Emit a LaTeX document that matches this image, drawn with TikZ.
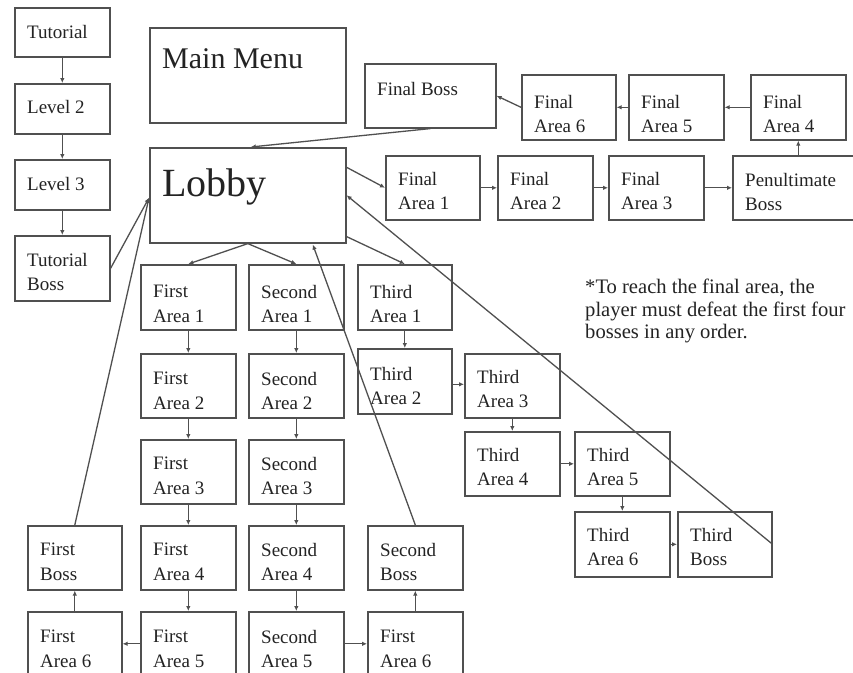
\documentclass[tikz,border=0pt]{standalone}
\usepackage{fontspec}
\setmainfont{Liberation Serif}
\usetikzlibrary{arrows.meta,calc}
\definecolor{ln}{RGB}{80,80,80}
\definecolor{tx}{RGB}{35,35,35}
\tikzset{
  box/.style={draw=ln, line width=1.6pt, inner sep=0pt},
  lbl/.style={text=tx, inner sep=0pt, align=left, font=\fontsize{19}{24.5}\selectfont},
  conn/.style={draw=ln, line width=1.3pt, -{Latex[length=5pt,width=4.5pt]}},
}
% name, x, y, w, h, text, cap-top offset
\newcommand{\gbox}[7]{%
  \node[box, minimum width=#4pt, minimum height=#5pt, anchor=north west] (#1) at (#2,#3) {};
  \node[lbl, anchor=north west] (#1-t) at ([xshift=13pt,yshift=-#7pt]#1.north west) {#6};
}
\begin{document}
\begin{tikzpicture}[x=1pt,y=-1pt]
\useasboundingbox (0,0) rectangle (853,672);
\fill[white] (0,0) rectangle (853,672);
\clip (0,0) rectangle (853,672);

% left column
\gbox{tut}{14}{7}{95}{49}{Tutorial}{18}
\gbox{lv2}{14}{83}{95}{50}{Level 2}{17}
\gbox{lv3}{14}{159}{95}{50}{Level 3}{18}
\gbox{tboss}{14}{235}{95}{65}{Tutorial\\Boss}{18}

% main menu and lobby
\node[box, minimum width=196pt, minimum height=95pt, anchor=north west] (menu) at (149,27) {};
\node[lbl, anchor=north west, font=\fontsize{30}{35}\selectfont] (menu-t) at ([xshift=13pt,yshift=-21pt]menu.north west) {Main Menu};
\node[box, minimum width=196pt, minimum height=95pt, anchor=north west] (lobby) at (149,147) {};
\node[lbl, anchor=north west, font=\fontsize{40}{46}\selectfont] (lobby-t) at ([xshift=13pt,yshift=-22pt]lobby.north west) {Lobby};

% final chain
\gbox{fboss}{364}{63}{131}{64}{Final Boss}{19}
\gbox{fa6}{521}{74}{94}{65}{Final\\Area 6}{21}
\gbox{fa5}{628}{74}{95}{65}{Final\\Area 5}{21}
\gbox{fa4}{750}{74}{95}{65}{Final\\Area 4}{21}
\gbox{fa1}{385}{155}{94}{64}{Final\\Area 1}{17}
\gbox{fa2}{497}{155}{95}{64}{Final\\Area 2}{17}
\gbox{fa3}{608}{155}{95}{64}{Final\\Area 3}{17}
\gbox{pen}{732}{155}{125}{64}{Penultimate\\Boss}{18}

% first column
\gbox{f1}{140}{264}{95}{65}{First\\Area 1}{21}
\gbox{f2}{140}{353}{95}{64}{First\\Area 2}{19}
\gbox{f3}{140}{439}{95}{64}{First\\Area 3}{18}
\gbox{f4}{140}{525}{95}{64}{First\\Area 4}{18}
\gbox{f5}{140}{611}{95}{64}{First\\Area 5}{19}
\gbox{fb}{27}{525}{94}{64}{First\\Boss}{18}
\gbox{f6}{27}{611}{94}{64}{First\\Area 6}{19}

% second column
\gbox{s1}{248}{264}{95}{65}{Second\\Area 1}{21}
\gbox{s2}{248}{353}{95}{64}{Second\\Area 2}{19}
\gbox{s3}{248}{439}{95}{64}{Second\\Area 3}{18}
\gbox{s4}{248}{525}{95}{64}{Second\\Area 4}{18}
\gbox{s5}{248}{611}{95}{64}{Second\\Area 5}{19}
\gbox{sb}{367}{525}{95}{64}{Second\\Boss}{18}
\gbox{s6}{367}{611}{95}{64}{First\\Area 6}{19}

% third branch
\gbox{t1}{357}{264}{94}{65}{Third\\Area 1}{21}
\gbox{t2}{357}{348}{94}{65}{Third\\Area 2}{19}
\gbox{t3}{464}{353}{95}{64}{Third\\Area 3}{17}
\gbox{t4}{464}{431}{95}{64}{Third\\Area 4}{17}
\gbox{t5}{574}{431}{95}{64}{Third\\Area 5}{17}
\gbox{t6}{574}{511}{95}{65}{Third\\Area 6}{17}
\gbox{tb}{677}{511}{94}{65}{Third\\Boss}{17}

% note
\node[lbl, anchor=north west, font=\fontsize{20.6}{22.5}\selectfont] (note) at (585,279)
  {*To reach the final area, the\\player must defeat the first four\\bosses in any order.};

% connectors: left column
\draw[conn] (tut.south) -- (lv2.north);
\draw[conn] (lv2.south) -- (lv3.north);
\draw[conn] (lv3.south) -- (tboss.north);
\coordinate (lobbyL) at ([yshift=-2.5pt]lobby.west);
\draw[conn] (tboss.east) -- (lobbyL);
\draw[conn] (fb.north) -- (lobbyL);

% final chain
\draw[conn] (fboss.south) -- ([xshift=3pt]lobby.north);
\draw[conn] ([yshift=28pt]lobby.east) -- (fa1.west);
\draw[conn] (fa1.east) -- (fa2.west);
\draw[conn] (fa2.east) -- (fa3.west);
\draw[conn] (fa3.east) -- (pen.west);
\draw[conn] (fa4.south |- pen.north) -- (fa4.south);
\draw[conn] (fa4.west) -- (fa5.east);
\draw[conn] (fa5.west) -- (fa6.east);
\draw[conn] (fa6.west) -- (fboss.east);

% lobby to branches
\draw[conn] (lobby.south) -- (f1.north);
\draw[conn] (lobby.south) -- (s1.north);
\draw[conn] ([yshift=7pt]lobby.south east) -- (t1.north);

% first column
\draw[conn] (f1.south) -- (f2.north);
\draw[conn] (f2.south) -- (f3.north);
\draw[conn] (f3.south) -- (f4.north);
\draw[conn] (f4.south) -- (f5.north);
\draw[conn] (f5.west) -- (f6.east);
\draw[conn] (f6.north) -- (fb.south);

% second column
\draw[conn] (s1.south) -- (s2.north);
\draw[conn] (s2.south) -- (s3.north);
\draw[conn] (s3.south) -- (s4.north);
\draw[conn] (s4.south) -- (s5.north);
\draw[conn] (s5.east) -- (s6.west);
\draw[conn] (s6.north) -- (sb.south);
\draw[conn] (sb.north) -- ([xshift=65pt,yshift=-1pt]lobby.south);

% third branch
\draw[conn] (t1.south) -- (t2.north);
\draw[conn] ([yshift=-3pt]t2.east) -- ([yshift=-3pt]t2.east -| t3.west);
\draw[conn] (t3.south) -- (t4.north);
\draw[conn] (t4.east) -- (t5.west);
\draw[conn] (t5.south) -- (t6.north);
\draw[conn] (t6.east) -- (tb.west);
\draw[conn] (tb.east) -- (lobby.east);
\end{tikzpicture}
\end{document}
